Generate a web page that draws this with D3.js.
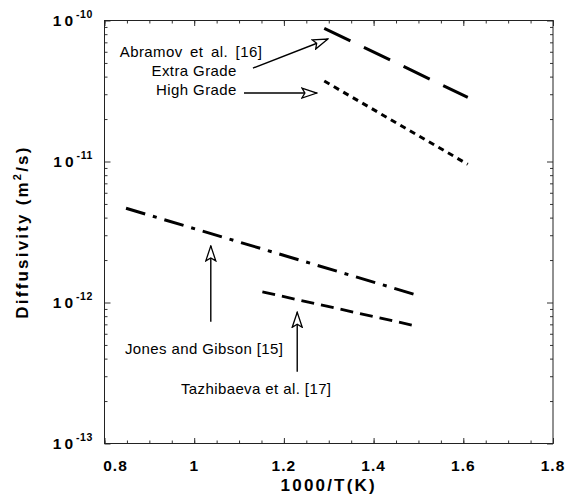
<!DOCTYPE html>
<html>
<head>
<meta charset="utf-8">
<script src="https://cdn.jsdelivr.net/npm/d3@7/dist/d3.min.js"></script>
<style>
  body { margin: 0; background: #fff; }
  svg text { font-family: "Liberation Sans", Arial, Helvetica, sans-serif; fill: #000; }
  .tick-label { font-weight: bold; font-size: 15.5px; letter-spacing: 1px; }
  .axis-title { font-weight: bold; font-size: 17px; letter-spacing: 2.2px; }
  .note { font-size: 15px; letter-spacing: 0.4px; }
</style>
</head>
<body>
<svg id="diffusivity" width="567" height="502"></svg>
<script>
// series: 1000/T values and diffusivity (m2/s) at the ends of each straight fit
var seriesNames = ["Extra Grade", "High Grade", "Jones and Gibson", "Tazhibaeva"];
var seriesX = [[1.29, 1.61], [1.29, 1.61], [0.848, 1.492], [1.152, 1.492]];
var seriesD = [[8.8e-11, 2.85e-11], [3.72e-11, 9.55e-12], [4.66e-12, 1.14e-12], [1.19e-12, 6.84e-13]];
var seriesDash = ["29,15", "6,5", "20,8,4,8", "13,7"];
var seriesWidth = [3, 3, 3, 2.8];

var xTickValues = [0.8, 1, 1.2, 1.4, 1.6, 1.8];
var xTickLabels = ["0.8", "1", "1.2", "1.4", "1.6", "1.8"];
var yTickExponents = [-10, -11, -12, -13];

// annotation text (x, y in data units)
var noteText = ["Abramov et al. [16]", "Extra Grade", "High Grade", "Jones and Gibson [15]", "Tazhibaeva et al. [17]"];
var noteX = [0.834, 1.095, 1.095, 0.8455, 0.9703];
var noteY = [5.51e-11, 4.01e-11, 2.94e-11, 4.32e-13, 2.23e-13];
var noteAnchor = ["start", "end", "end", "start", "start"];

// arrows: [x0, y0] -> [x1, y1] in data units
var arrowFrom = [[1.131, 4.60e-11], [1.111, 3.06e-11], [1.037, 7.31e-13], [1.2297, 3.23e-13]];
var arrowTo = [[1.298, 7.39e-11], [1.2736, 3.06e-11], [1.037, 2.52e-12], [1.2297, 8.52e-13]];

var svg = d3.select("#diffusivity"),
  margin = { top: 20.5, right: 14, bottom: 58.5, left: 104.5 },
  width = +svg.attr("width") - margin.left - margin.right,
  height = +svg.attr("height") - margin.top - margin.bottom;

var x = d3.scaleLinear().domain([0.8, 1.8]).range([0, width]),
  y = d3.scaleLog().domain([1e-13, 1e-10]).range([height, 0]);

var g = svg.append("g")
  .attr("transform", "translate(" + margin.left + "," + margin.top + ")");

var xMinor = d3.range(0.8, 1.8001, 0.05);
var yAll = y.ticks();
var yMinor = yAll.filter(function (d) {
  var e = Math.log10(d);
  return Math.abs(e - Math.round(e)) > 1e-6;
});
var yMajor = yTickExponents.map(function (e) { return Math.pow(10, e); });

function tickAxis(axis, values, size) {
  return axis.tickValues(values).tickSize(size).tickSizeOuter(0).tickFormat("");
}

// inward ticks on all four sides
[[d3.axisBottom(x), xMinor, 3, "translate(0," + height + ")"],
 [d3.axisBottom(x), xTickValues, 5.5, "translate(0," + height + ")"],
 [d3.axisTop(x), xMinor, 3, null],
 [d3.axisTop(x), xTickValues, 5.5, null],
 [d3.axisLeft(y), yMinor, 3, null],
 [d3.axisLeft(y), yMajor, 6, null],
 [d3.axisRight(y), yMinor, 3, "translate(" + width + ",0)"],
 [d3.axisRight(y), yMajor, 6, "translate(" + width + ",0)"]].forEach(function (a) {
  var ax = g.append("g").attr("class", "ticks");
  if (a[3]) ax.attr("transform", a[3]);
  ax.call(tickAxis(a[0], a[1], -a[2]));
  ax.select(".domain").remove();
  ax.selectAll("line").attr("stroke", "#333").attr("stroke-width", 1);
});

g.append("rect")
  .attr("width", width)
  .attr("height", height)
  .attr("fill", "none")
  .attr("stroke", "#222")
  .attr("stroke-width", 1);

// x tick labels
g.selectAll(".xlab")
  .data(xTickValues)
  .enter().append("text")
  .attr("class", "tick-label")
  .attr("x", function (d, i) { return x(d) + (i === 0 ? 11 : 0); })
  .attr("y", height + 27)
  .attr("text-anchor", "middle")
  .text(function (d, i) { return xTickLabels[i]; });

// y tick labels 10^n
var ylab = g.selectAll(".ylab")
  .data(yTickExponents)
  .enter().append("text")
  .attr("class", "tick-label")
  .attr("x", -11.5)
  .attr("y", function (d) { return y(Math.pow(10, d)) + 5.5; })
  .attr("text-anchor", "end");
ylab.append("tspan")
  .attr("letter-spacing", "3px")
  .text("10");
ylab.append("tspan")
  .attr("dy", -8)
  .attr("font-size", "10.5px")
  .attr("letter-spacing", "0.6px")
  .text(function (d) { return String(d); });

// axis titles
svg.append("text")
  .attr("class", "axis-title")
  .attr("x", margin.left + width / 2)
  .attr("y", 491)
  .attr("text-anchor", "middle")
  .text("1000/T(K)");

var yt = svg.append("text")
  .attr("class", "axis-title")
  .attr("transform", "translate(28," + (margin.top + height / 2) + ") rotate(-90)")
  .attr("text-anchor", "middle");
yt.append("tspan").text("Diffusivity (m");
yt.append("tspan").attr("dy", -7).attr("font-size", "11px").text("2");
yt.append("tspan").attr("dy", 7).text("/s)");

// data lines
var line = d3.line()
  .x(function (d) { return x(d[0]); })
  .y(function (d) { return y(d[1]); });

g.selectAll(".series")
  .data(seriesNames)
  .enter().append("path")
  .attr("class", "series")
  .attr("fill", "none")
  .attr("stroke", "#000")
  .attr("stroke-width", function (d, i) { return seriesWidth[i]; })
  .attr("stroke-dasharray", function (d, i) { return seriesDash[i]; })
  .attr("d", function (d, i) {
    return line(seriesX[i].map(function (v, j) { return [v, seriesD[i][j]]; }));
  });

// arrows with open heads
svg.append("defs").append("marker")
  .attr("id", "head")
  .attr("markerUnits", "userSpaceOnUse")
  .attr("viewBox", "-1 -1 17 12")
  .attr("markerWidth", 17)
  .attr("markerHeight", 12)
  .attr("refX", 15)
  .attr("refY", 5)
  .attr("orient", "auto")
  .append("path")
  .attr("d", "M0,0 L15,5 L0,10 L3,5 Z")
  .attr("fill", "#fff")
  .attr("stroke", "#000")
  .attr("stroke-width", 1.3);

g.selectAll(".arrow")
  .data(arrowFrom)
  .enter().append("line")
  .attr("class", "arrow")
  .attr("x1", function (d) { return x(d[0]); })
  .attr("y1", function (d) { return y(d[1]); })
  .attr("x2", function (d, i) { return x(arrowTo[i][0]); })
  .attr("y2", function (d, i) { return y(arrowTo[i][1]); })
  .attr("stroke", "#000")
  .attr("stroke-width", 1.4)
  .attr("marker-end", "url(#head)");

g.selectAll(".note")
  .data(noteText)
  .enter().append("text")
  .attr("class", "note")
  .attr("x", function (d, i) { return x(noteX[i]); })
  .attr("y", function (d, i) { return y(noteY[i]); })
  .attr("text-anchor", function (d, i) { return noteAnchor[i]; })
  .attr("word-spacing", function (d, i) { return i === 0 ? "3px" : null; })
  .text(function (d) { return d; });
</script>
</body>
</html>
